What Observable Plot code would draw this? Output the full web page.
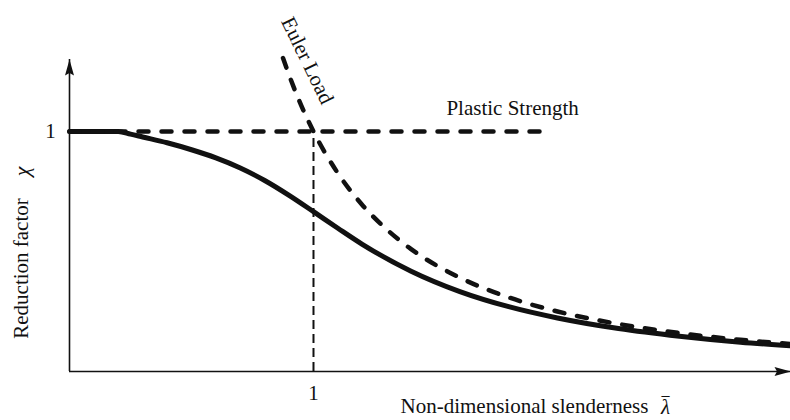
<!DOCTYPE html>
<html>
<head>
<meta charset="utf-8">
<script src="https://cdn.jsdelivr.net/npm/d3@7"></script>
<script src="https://cdn.jsdelivr.net/npm/@observablehq/plot@0.6"></script>
<style>
  html, body { margin: 0; padding: 0; background: #fff; }
  #chart svg { display: block; }
</style>
</head>
<body>
<div id="chart"></div>
<script>
// Column buckling: reduction factor vs. non-dimensional slenderness
const bucklingLambda = [0, 0.1, 0.2, 0.25, 0.3, 0.4, 0.5, 0.6, 0.7, 0.8, 0.9, 1.0, 1.1, 1.2, 1.4, 1.6, 1.8, 2.0, 2.25, 2.5, 2.75, 2.955];
const bucklingChi    = [1, 1, 1, 0.989, 0.977, 0.953, 0.924, 0.890, 0.848, 0.796, 0.734, 0.666, 0.597, 0.530, 0.418, 0.333, 0.270, 0.223, 0.179, 0.147, 0.122, 0.107];

const eulerLambda = [0.875, 0.9, 0.95, 1.0, 1.1, 1.2, 1.3, 1.4, 1.6, 1.8, 2.0, 2.25, 2.5, 2.75, 2.955];
const eulerChi    = [1.306, 1.235, 1.108, 1.0, 0.826, 0.694, 0.592, 0.510, 0.391, 0.309, 0.250, 0.198, 0.160, 0.132, 0.1145];

const plasticLambda = [0, 1.94];
const plasticChi    = [1, 1];

const xTicks = [1];
const yTicks = [1];

const ink = "#111";
const serif = "Liberation Serif, Times New Roman, serif";

const buckling = bucklingLambda.map((x, i) => ({x, y: bucklingChi[i]}));
const euler = eulerLambda.map((x, i) => ({x, y: eulerChi[i]}));
const plastic = plasticLambda.map((x, i) => ({x, y: plasticChi[i]}));

const xMax = 2.955, yMax = 1.3;

// narrow filled arrowhead, tip at the anchor point, pointing up
const arrowHead = {
  draw(context) {
    context.moveTo(0, 0);
    context.lineTo(4.5, 16);
    context.lineTo(0, 13.5);
    context.lineTo(-4.5, 16);
    context.closePath();
  }
};

const chart = Plot.plot({
  width: 790,
  height: 420,
  marginLeft: 69,
  marginRight: 0,
  marginTop: 59,
  marginBottom: 49,
  x: {domain: [0, xMax], axis: null},
  y: {domain: [0, yMax], axis: null},
  style: {fontFamily: serif, fontSize: "21px", background: "#fff", color: ink},
  marks: [
    // axes
    Plot.ruleY([0], {stroke: ink, strokeWidth: 1.6}),
    Plot.ruleX([0], {stroke: ink, strokeWidth: 1.6}),
    Plot.dot([{x: 0, y: yMax}], {x: "x", y: "y", symbol: arrowHead, fill: ink, stroke: "none"}),
    Plot.dot([{x: xMax, y: 0}], {x: "x", y: "y", symbol: arrowHead, rotate: 90, fill: ink, stroke: "none"}),

    // guide at slenderness 1
    Plot.ruleX(xTicks, {y1: 0, y2: 1, stroke: ink, strokeWidth: 2, strokeDasharray: "9,5"}),

    // buckling curve
    Plot.line(buckling, {x: "x", y: "y", curve: "monotone-x", stroke: ink, strokeWidth: 5}),
    // plastic strength
    Plot.line(plastic, {x: "x", y: "y", stroke: ink, strokeWidth: 4.5, strokeDasharray: "10,13", strokeLinecap: "round"}),
    // Euler load
    Plot.line(euler, {x: "x", y: "y", curve: "monotone-x", stroke: ink, strokeWidth: 4.5, strokeDasharray: "10,13", strokeLinecap: "round", clip: false}),

    // tick labels
    Plot.text(xTicks, {x: d => d, y: 0, text: d => String(d), dy: 22, fontSize: 21, fill: ink}),
    Plot.text(yTicks, {x: 0, y: d => d, text: d => String(d), dx: -19, fontSize: 21, fill: ink}),

    // curve labels
    Plot.text(["Euler Load"], {x: 0.975, y: 1.296, text: d => d, rotate: 64, fontSize: 21, fill: ink}),
    Plot.text(["Plastic Strength"], {x: 1.816, y: 1.096, text: d => d, fontSize: 21, fill: ink}),

    // axis titles
    Plot.text(["Non-dimensional slenderness"], {x: 0, y: 0, text: d => d, dx: 331, dy: 35, textAnchor: "start", fontSize: 21, fill: ink}),
    Plot.text(["λ"], {x: 0, y: 0, text: d => d, dx: 596, dy: 36, textAnchor: "middle", fontStyle: "italic", fontSize: 21, fill: ink}),
    Plot.text(["‾"], {x: 0, y: 0, text: d => d, dx: 596, dy: 35, textAnchor: "middle", fontSize: 21, fill: ink}),
    Plot.text(["Reduction factor"], {x: 0, y: 0, text: d => d, dx: -48, dy: -103, rotate: -90, fontSize: 21, fill: ink}),
    Plot.text(["χ"], {x: 0, y: 0, text: d => d, dx: -48, dy: -200, rotate: -90, fontStyle: "italic", fontSize: 22, fill: ink})
  ]
});

document.getElementById("chart").appendChild(chart);
</script>
</body>
</html>
